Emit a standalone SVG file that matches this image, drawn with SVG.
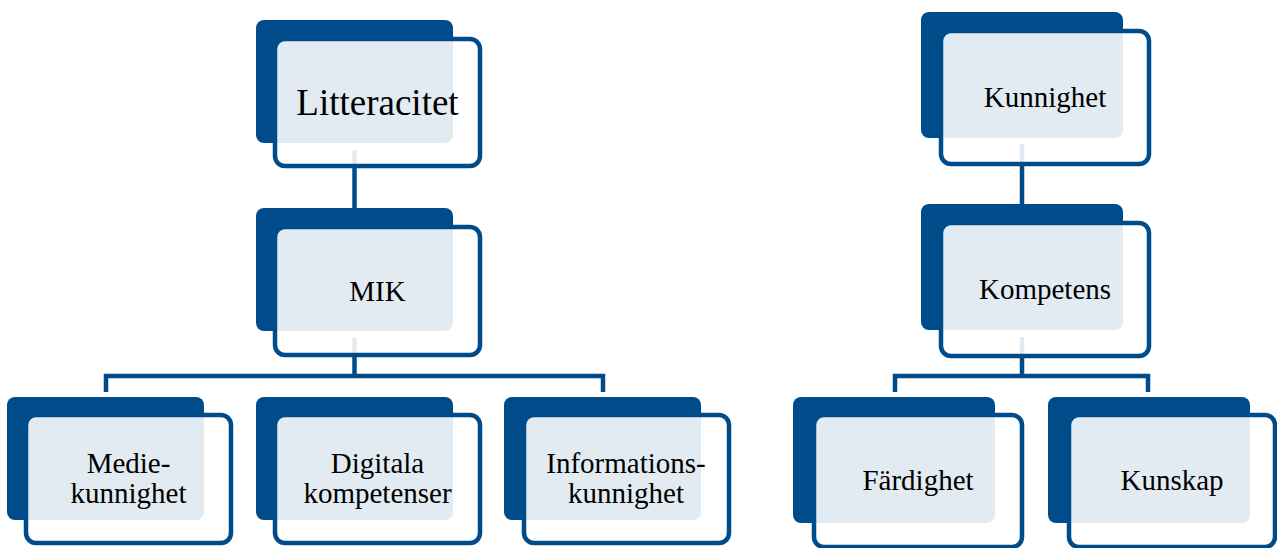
<svg xmlns="http://www.w3.org/2000/svg" width="1277" height="548" viewBox="0 0 1277 548">
<style>
.back{fill:#004c8b}
.front{fill:#ffffff;fill-opacity:0.89;stroke:#004c8b;stroke-width:4.5}
.conn{fill:none;stroke:#004c8b;stroke-width:4.5}
text{font-family:"Liberation Serif","Times New Roman",serif;fill:#000;text-anchor:middle;font-size:29px}
.big{font-size:37px}
</style>
<rect width="1277" height="548" fill="#ffffff"/>
<g id="connectors">
<path class="conn" d="M354.5,150 V208"/>
<path class="conn" d="M354.5,338 V376 M106,392 V376 H603 V392"/>
<path class="conn" d="M1022,144 V204"/>
<path class="conn" d="M1022,337 V376 M895,392 V376 H1148 V392"/>
</g>
<g id="n-litteracitet">
<rect class="back" x="256" y="20" width="197" height="123" rx="8"/>
<rect class="front" x="275" y="39" width="205" height="127" rx="10"/>
<text class="big" x="377.5" y="115">Litteracitet</text>
</g>
<g id="n-mik">
<rect class="back" x="256" y="208" width="197" height="123" rx="8"/>
<rect class="front" x="275" y="227" width="205" height="128" rx="10"/>
<text x="377.5" y="301">MIK</text>
</g>
<g id="n-medie">
<rect class="back" x="7" y="397" width="197" height="123" rx="8"/>
<rect class="front" x="26" y="415" width="205" height="128" rx="10"/>
<text x="128.5" y="473">Medie-</text>
<text x="128.5" y="503">kunnighet</text>
</g>
<g id="n-digitala">
<rect class="back" x="256" y="397" width="197" height="123" rx="8"/>
<rect class="front" x="275" y="415" width="205" height="128" rx="10"/>
<text x="377.5" y="473">Digitala</text>
<text x="377.5" y="503">kompetenser</text>
</g>
<g id="n-informations">
<rect class="back" x="504" y="397" width="197" height="123" rx="8"/>
<rect class="front" x="524" y="415" width="205" height="128" rx="10"/>
<text x="626" y="473">Informations-</text>
<text x="626" y="503">kunnighet</text>
</g>
<g id="n-kunnighet">
<rect class="back" x="921" y="12" width="202" height="126" rx="8"/>
<rect class="front" x="941" y="31" width="208" height="133" rx="10"/>
<text x="1045" y="107">Kunnighet</text>
</g>
<g id="n-kompetens">
<rect class="back" x="921" y="204" width="202" height="126" rx="8"/>
<rect class="front" x="941" y="223" width="208" height="133" rx="10"/>
<text x="1045" y="299">Kompetens</text>
</g>
<g id="n-fardighet">
<rect class="back" x="793" y="397" width="202" height="126" rx="8"/>
<rect class="front" x="814" y="415" width="208" height="132" rx="10"/>
<text x="918" y="490">Färdighet</text>
</g>
<g id="n-kunskap">
<rect class="back" x="1048" y="397" width="202" height="126" rx="8"/>
<rect class="front" x="1069" y="415" width="206" height="132" rx="10"/>
<text x="1172" y="490">Kunskap</text>
</g>
</svg>
